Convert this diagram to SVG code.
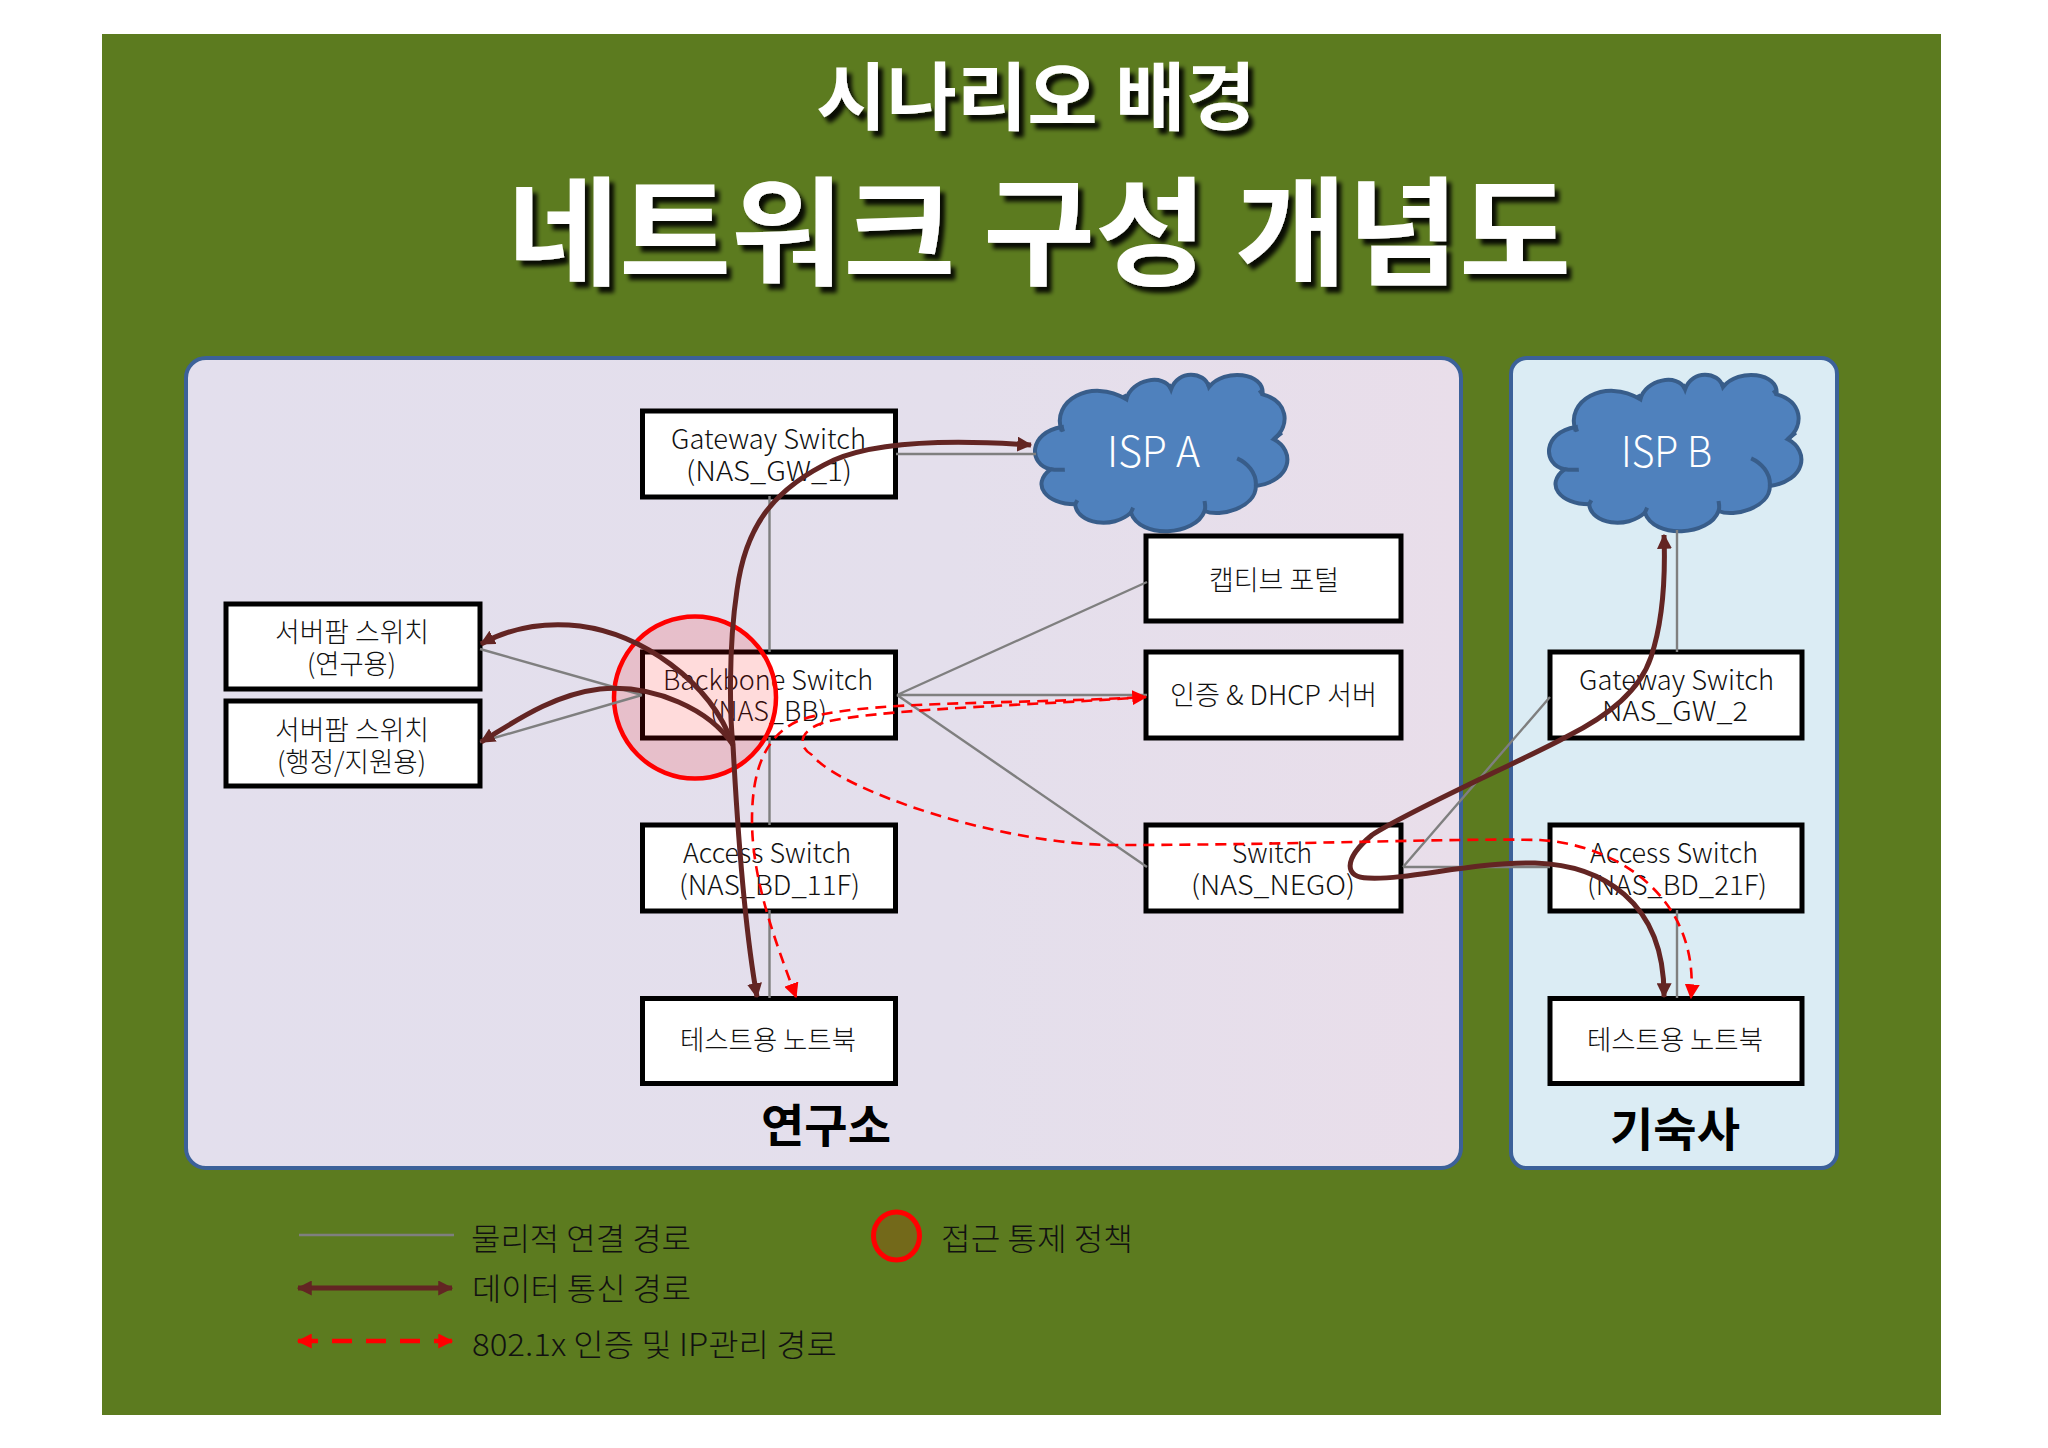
<svg xmlns="http://www.w3.org/2000/svg" width="2048" height="1448" viewBox="0 0 2048 1448">
<style>
text{font-family:"Noto Sans CJK KR","Noto Sans",sans-serif;font-weight:300;fill:#111}
.t{font-size:27px}
.box{fill:#fff;stroke:#000;stroke-width:5}
.panel{stroke:#3c6199;stroke-width:4}
.gray{fill:none;stroke:#7f7f7f;stroke-width:2.4}
.data{fill:none;stroke:#632523;stroke-width:5}
.auth{fill:none;stroke:#f00;stroke-width:2.6;stroke-dasharray:11 7}
.cloud{fill:#4f81bd;stroke:#385d8a;stroke-width:4;vector-effect:non-scaling-stroke}
.isp{fill:#fff;font-size:42px}
.title{fill:#fff;font-weight:700;filter:url(#sh)}
.lab{font-weight:700;font-size:46px;fill:#000}
.leg{font-size:31px}
</style>
<defs>
<filter id="sh" x="-5%" y="-10%" width="110%" height="125%"><feDropShadow dx="5" dy="6" stdDeviation="2.2" flood-color="#000" flood-opacity=".9"/></filter>
<linearGradient id="pg" x1="0" x2="1" y1="0" y2="0"><stop offset="0" stop-color="#e3dfed"/><stop offset=".6" stop-color="#e4dfec"/><stop offset="1" stop-color="#e9deea"/></linearGradient>
<marker id="br" viewBox="0 0 12 12" refX="11" refY="6" markerUnits="userSpaceOnUse" markerWidth="15" markerHeight="15" orient="auto-start-reverse"><path d="M0 0L12 6L0 12Z" fill="#632523"/></marker>
<marker id="rd" viewBox="0 0 12 12" refX="11" refY="6" markerUnits="userSpaceOnUse" markerWidth="15" markerHeight="15" orient="auto-start-reverse"><path d="M0 0L12 6L0 12Z" fill="#f00"/></marker>
<path id="cl" class="cloud" d="M985,210C960,120 1050,50 1130,115C1140,55 1215,35 1230,85C1245,25 1305,30 1315,78C1350,20 1440,35 1435,100C1490,120 1500,190 1460,235C1510,270 1500,360 1420,375C1420,440 1340,470 1305,450C1285,525 1160,535 1140,455C1100,505 1020,490 1015,430C950,430 915,370 960,325C910,310 910,215 985,198Z"/>
<path id="ch" fill="none" stroke="#385d8a" stroke-width="4" style="vector-effect:non-scaling-stroke" d="M1378,292C1400,305 1422,335 1420,375M1305,450C1308,440 1306,430 1305,420M1140,455L1145,440M1015,430L1020,418M960,325C970,327 980,327 992,326M985,198L988,212M1130,115L1125,100M1230,85L1225,70M1315,78L1312,65M1435,100L1428,88M1460,235L1478,215"/>
</defs>
<rect id="page" x="102" y="34" width="1839" height="1381" fill="#5c7b1f"/>
<g id="title">
<text class="title" x="816" y="124" font-size="74" textLength="440" lengthAdjust="spacingAndGlyphs">시나리오 배경</text>
<text class="title" x="507" y="276" font-size="118" textLength="1064" lengthAdjust="spacingAndGlyphs">네트워크 구성 개념도</text>
</g>
<g id="lab-panel"><rect class="panel" x="186" y="358" width="1275" height="810" rx="20" fill="url(#pg)"/>
<text class="lab" x="761" y="1142" textLength="130" lengthAdjust="spacingAndGlyphs">연구소</text></g>
<g id="dorm-panel"><rect class="panel" x="1511" y="358" width="326" height="810" rx="16" fill="#dbecf4"/>
<text class="lab" x="1610" y="1146" textLength="130" lengthAdjust="spacingAndGlyphs">기숙사</text></g>

<g id="isp-a"><g transform="translate(622,361) scale(.4464,.3333)"><use href="#cl"/><use href="#ch"/></g><text class="isp" x="1107" y="467" textLength="93" lengthAdjust="spacingAndGlyphs">ISP A</text></g>
<g id="isp-b"><g transform="translate(1136,361) scale(.4464,.3333)"><use href="#cl"/><use href="#ch"/></g><text class="isp" x="1621" y="467" textLength="91" lengthAdjust="spacingAndGlyphs">ISP B</text></g>

<g id="nas-gw-1"><rect class="box" x="642.5" y="411" width="253" height="86"/><text class="t" x="671" y="449" textLength="195" lengthAdjust="spacingAndGlyphs">Gateway Switch</text><text class="t" x="686" y="481" textLength="166" lengthAdjust="spacingAndGlyphs">(NAS_GW_1)</text></g>
<g id="nas-bb"><rect class="box" x="642.5" y="652" width="253" height="86"/><text class="t" x="663" y="690" textLength="210" lengthAdjust="spacingAndGlyphs">Backbone Switch</text><text class="t" x="710" y="721" textLength="117" lengthAdjust="spacingAndGlyphs">(NAS_BB)</text></g>
<g id="nas-bd-11f"><rect class="box" x="642.5" y="825" width="253" height="86"/><text class="t" x="683" y="863" textLength="168" lengthAdjust="spacingAndGlyphs">Access Switch</text><text class="t" x="679" y="895" textLength="181" lengthAdjust="spacingAndGlyphs">(NAS_BD_11F)</text></g>
<g id="laptop-1"><rect class="box" x="642.5" y="998.5" width="253" height="85"/><text class="t" x="680" y="1050" textLength="176" lengthAdjust="spacingAndGlyphs">테스트용 노트북</text></g>
<g id="farm-1"><rect class="box" x="226" y="604" width="254" height="85"/><text class="t" x="275" y="642" textLength="154" lengthAdjust="spacingAndGlyphs">서버팜 스위치</text><text class="t" x="307" y="674" textLength="89" lengthAdjust="spacingAndGlyphs">(연구용)</text></g>
<g id="farm-2"><rect class="box" x="226" y="701" width="254" height="85"/><text class="t" x="275" y="740" textLength="154" lengthAdjust="spacingAndGlyphs">서버팜 스위치</text><text class="t" x="277" y="772" textLength="149" lengthAdjust="spacingAndGlyphs">(행정/지원용)</text></g>
<g id="portal"><rect class="box" x="1146" y="536" width="255" height="85"/><text class="t" x="1209" y="590" textLength="130" lengthAdjust="spacingAndGlyphs">캡티브 포털</text></g>
<g id="dhcp"><rect class="box" x="1146" y="652" width="255" height="86"/><text class="t" x="1170" y="705" textLength="207" lengthAdjust="spacingAndGlyphs">인증 &amp; DHCP 서버</text></g>
<g id="nas-nego"><rect class="box" x="1146" y="825" width="255" height="86"/><text class="t" x="1232" y="863" textLength="80" lengthAdjust="spacingAndGlyphs">Switch</text><text class="t" x="1191" y="895" textLength="164" lengthAdjust="spacingAndGlyphs">(NAS_NEGO)</text></g>
<g id="nas-gw-2"><rect class="box" x="1550" y="652" width="252" height="86"/><text class="t" x="1579" y="690" textLength="195" lengthAdjust="spacingAndGlyphs">Gateway Switch</text><text class="t" x="1602" y="721" textLength="146" lengthAdjust="spacingAndGlyphs">NAS_GW_2</text></g>
<g id="nas-bd-21f"><rect class="box" x="1550" y="825" width="252" height="86"/><text class="t" x="1590" y="863" textLength="168" lengthAdjust="spacingAndGlyphs">Access Switch</text><text class="t" x="1587" y="895" textLength="180" lengthAdjust="spacingAndGlyphs">(NAS_BD_21F)</text></g>
<g id="laptop-2"><rect class="box" x="1550" y="998.5" width="252" height="85"/><text class="t" x="1587" y="1050" textLength="176" lengthAdjust="spacingAndGlyphs">테스트용 노트북</text></g>

<ellipse id="acl" cx="695" cy="697.500" rx="81" ry="81" fill="#f00" fill-opacity=".14" stroke="#f00" stroke-width="4.500"/>

<g id="connectors">
<g class="gray">
<path d="M896 454H1036M769.500 496V652M769.500 737V825M769.500 910V998M897 695L1147 582M897 695H1147M897 695L1147 867M642 695L480 649M642 695L480 742M1403 867L1550 697M1403 867H1550M1677 530V652M1677 910V998"/>
</g>
<path class="data" marker-end="url(#br)" marker-start="url(#br)" d="M1031,445C960,440 880,440 834,460C770,490 745,530 737,590C728,650 730,720 733,745C737,820 745,930 757,997"/>
<path class="data" marker-start="url(#br)" d="M481,644C510,628 545,622 580,626C640,634 710,680 733,745"/>
<path class="data" marker-start="url(#br)" d="M481,742C510,725 550,695 600,689C655,684 710,710 733,745"/>
<path class="data" marker-start="url(#br)" marker-end="url(#br)" d="M1664,535C1666,590 1660,630 1651,657C1640,690 1610,715 1566,737C1530,757 1410,810 1372,835C1342,860 1345,878 1368,878C1410,880 1470,862 1535,863C1600,865 1665,900 1664,997"/>
<path class="auth" marker-start="url(#rd)" marker-end="url(#rd)" d="M796,997C775,940 752,880 752,820C752,770 765,735 800,720C860,700 1000,705 1146,697"/>
<path class="auth" marker-end="url(#rd)" d="M1146,697C1040,705 900,708 835,720C800,726 795,745 812,755C840,790 1000,845 1116,845C1300,845 1450,838 1540,840C1620,845 1700,900 1691,998"/>
</g>

<g id="legend">
<path class="gray" style="stroke-width:2.500" d="M299 1235H454"/>
<path class="data" style="stroke-width:5" marker-start="url(#br)" marker-end="url(#br)" d="M298 1288H452"/>
<path class="auth" style="stroke-width:4.500;stroke-dasharray:20 14" marker-start="url(#rd)" marker-end="url(#rd)" d="M298 1341H452"/>
<ellipse cx="896.500" cy="1236" rx="23" ry="24" fill="#f00" fill-opacity=".14" stroke="#f00" stroke-width="5"/>
<text class="leg" x="471" y="1250" textLength="220" lengthAdjust="spacingAndGlyphs">물리적 연결 경로</text>
<text class="leg" x="472" y="1300" textLength="219" lengthAdjust="spacingAndGlyphs">데이터 통신 경로</text>
<text class="leg" x="472" y="1356" textLength="365" lengthAdjust="spacingAndGlyphs">802.1x 인증 및 IP관리 경로</text>
<text class="leg" x="941" y="1250" textLength="192" lengthAdjust="spacingAndGlyphs">접근 통제 정책</text>
</g>
</svg>
